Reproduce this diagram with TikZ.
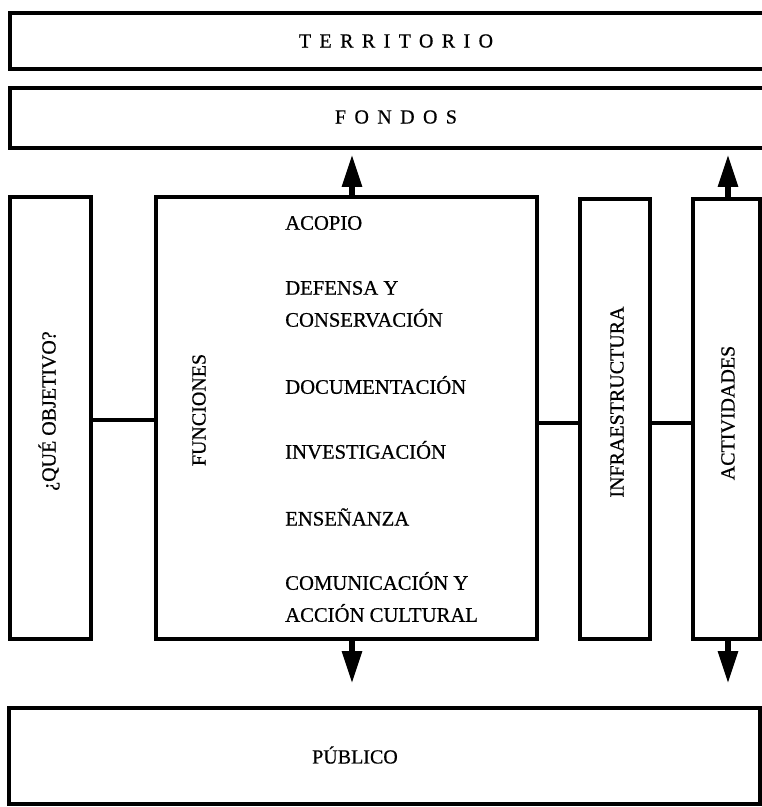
\documentclass[tikz,border=0pt]{standalone}
\usepackage{fontspec}
\setmainfont[FakeBold=0.6]{Liberation Serif}
\usetikzlibrary{arrows.meta}
\tikzset{
 box/.style={draw,line width=2.4pt,inner sep=0pt,rectangle},
 lbl/.style={font=\fontsize{15}{18}\selectfont, inner sep=0pt},
 vlbl/.style={lbl, rotate=90},
 spaced/.style={inner sep=0pt, font=\fontsize{15}{18}\selectfont\addfontfeature{LetterSpace=42}},
 item/.style={inner sep=0pt, anchor=west, align=left, font=\fontsize{15.5}{24}\selectfont},
 link/.style={line width=2.4pt},
 arr/.style={line width=3.8pt, -{Triangle[length=24pt,width=14.5pt]}},
}
\begin{document}
\begin{tikzpicture}[x=0.75pt,y=-0.75pt]
\useasboundingbox (0,0) rectangle (762,807);
\clip (0,0) rectangle (762,807);
% boxes
\node[box, minimum width=607.5pt, minimum height=42pt] (terr) at (415,41) {};
\node[box, minimum width=607.5pt, minimum height=45pt] (fondos) at (415,118) {};
\node[box, minimum width=60.75pt, minimum height=331.5pt] (obj) at (50.5,418) {};
\node[box, minimum width=285.75pt, minimum height=331.5pt] (fun) at (346.5,418) {};
\node[box, minimum width=52.5pt, minimum height=330pt] (infra) at (615,419) {};
\node[box, minimum width=50.25pt, minimum height=330pt] (act) at (726.5,419) {};
\node[box, minimum width=563.25pt, minimum height=72pt] (pub) at (384.5,756) {};
% labels
\node[spaced] (tterr) at (396,41) {TERRITORIO};
\node[spaced] (tfon) at (396,117) {FONDOS};
\node[lbl] (tpub) at (355,755) {PÚBLICO};
\node[vlbl] (tobj) at (49,411) {¿QUÉ OBJETIVO?};
\node[vlbl] (tfun) at (199,410) {FUNCIONES};
\node[vlbl] (tinf) at (617,402) {INFRAESTRUCTURA};
\node[vlbl] (tact) at (728,413) {ACTIVIDADES};
% items
\node[item] (i1) at (285,223) {ACOPIO};
\node[item] (i2) at (285,304) {DEFENSA Y\\CONSERVACIÓN};
\node[item] (i3) at (285,385) {DOCUMENTACIÓN};
\node[item] (i4) at (285,450) {INVESTIGACIÓN};
\node[item] (i5) at (285,517) {ENSEÑANZA};
\node[item] (i6) at (285,597) {COMUNICACIÓN Y\\ACCIÓN CULTURAL};
% horizontal links
\coordinate (h1) at (0,420);
\coordinate (h2) at (0,423);
\draw[link] (obj.east |- h1) -- (fun.west |- h1);
\draw[link] (fun.east |- h2) -- (infra.west |- h2);
\draw[link] (infra.east |- h2) -- (act.west |- h2);
% arrows
\coordinate (a1) at (352,0);
\coordinate (a2) at (728,0);
\draw[arr, shorten >=4pt] (fun.north -| a1) -- (fondos.south -| a1);
\draw[arr, shorten >=4pt] (act.north -| a2) -- (fondos.south -| a2);
\draw[arr, shorten >=17.5pt] (fun.south -| a1) -- (pub.north -| a1);
\draw[arr, shorten >=17.5pt] (act.south -| a2) -- (pub.north -| a2);
\end{tikzpicture}
\end{document}
